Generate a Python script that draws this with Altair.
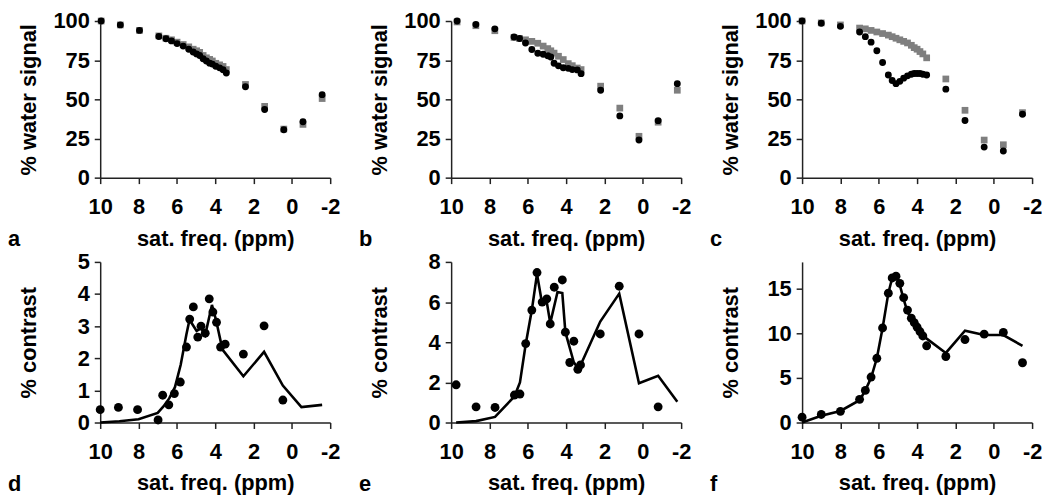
import altair as alt
import pandas as pd

FONT = "Liberation Sans"
FS = 22

# ---------------- panel a ----------------
a_x = [9.95, 8.95, 7.95, 6.94, 6.57, 6.28, 5.99, 5.67, 5.38, 5.15, 4.97, 4.81, 4.63, 4.46,
       4.29, 4.15, 3.97, 3.77, 3.59, 3.42, 2.42, 1.42, 0.42, -0.58, -1.58]
a_black = [100, 97.5, 94, 90.1, 88.7, 87.3, 85.6, 84.0, 82.0, 80.2, 79.0, 78.0, 75.9, 74.5,
           73.1, 72.5, 71.1, 70.1, 68.9, 66.8, 58, 43.5, 30.6, 35.7, 53]
a_gray = [100, 97.5, 94, 90.5, 89, 88, 86.5, 85, 83.5, 82, 81, 80, 78, 76.5,
          75.5, 74.5, 73, 72, 71, 69, 59.5, 45.5, 31, 34, 50.5]

# ---------------- panel b ----------------
b_x = [9.69, 8.71, 7.72, 6.72, 6.43, 6.12, 5.79, 5.48, 5.2, 4.96, 4.8, 4.63, 4.4, 4.15,
       3.89, 3.68, 3.42, 3.22, 2.2, 1.2, 0.2, -0.8, -1.8]
b_black = [100, 97.8, 95, 89.8, 88.8, 86, 81.8, 79.4, 78.8, 77.8, 77, 73, 71.4, 70.2,
           69.8, 69, 68.8, 66.4, 55.8, 39.4, 24, 36.4, 60]
b_gray = [99.4, 97, 93.8, 89.5, 88.8, 88, 87, 85.8, 84, 82.4, 81, 79.5, 77.5, 75.4,
          72.8, 71.5, 70, 69, 58.4, 44.4, 26.4, 35.4, 55.8]

# ---------------- panel c ----------------
c_x = [10, 9, 8, 7, 6.7, 6.4, 6.1, 5.8, 5.5, 5.3, 5.1, 4.9, 4.7, 4.5, 4.3, 4.15, 4.0,
       3.85, 3.7, 3.5, 2.5, 1.5, 0.5, -0.5, -1.5]
c_black = [100, 98.6, 96.6, 93, 90, 86.5, 81, 73.5, 65.5, 62, 60, 61.5, 63.5, 65, 66, 66.5,
           66.5, 66.5, 66, 65.5, 56.5, 36.5, 19.5, 17, 40.5]
c_gray = [100, 98.8, 97.5, 95.5, 95, 94, 93, 92, 91, 90, 89, 88, 87, 86, 84.5, 83, 82,
          80.5, 79, 76.5, 63, 43, 24, 21, 41.5]

# ---------------- panel d ----------------
d_x = [10, 9.05, 8.05, 6.98, 6.74, 6.42, 6.13, 5.82, 5.5, 5.33, 5.14, 4.91, 4.74, 4.52,
       4.31, 4.12, 3.93, 3.72, 3.48, 2.53, 1.45, 0.47]
d_pts = [0.4, 0.47, 0.4, 0.08, 0.85, 0.55, 0.9, 1.26, 2.35, 3.22, 3.6, 2.66, 3.0, 2.78,
         3.85, 3.44, 3.12, 2.35, 2.44, 2.13, 3.01, 0.7]
d_line_x = [10, 9, 8, 7, 6.7, 6.4, 6.1, 5.8, 5.5, 5.34, 4.97, 4.74, 4.52, 4.17, 3.96,
            3.62, 2.53, 1.45, 0.47, -0.5, -1.58]
d_line = [0, 0.04, 0.1, 0.3, 0.5, 0.75, 1.1, 1.8, 2.75, 3.2, 2.85, 2.94, 2.73, 3.66, 3.2,
          2.27, 1.44, 2.2, 1.15, 0.48, 0.55]

# ---------------- panel e ----------------
e_x = [9.74, 8.7, 7.71, 6.7, 6.41, 6.11, 5.79, 5.52, 5.25, 5.01, 4.83, 4.62, 4.2, 4.04,
       3.81, 3.6, 3.39, 3.25, 2.22, 1.23, 0.2, -0.8]
e_pts = [1.88, 0.78, 0.75, 1.37, 1.42, 3.93, 5.6, 7.47, 6.0, 6.16, 4.91, 6.74, 7.1, 4.5,
         2.99, 4.05, 2.65, 2.87, 4.41, 6.79, 4.41, 0.78]
e_line_x = [9.74, 8.7, 7.71, 6.7, 6.41, 6.11, 5.79, 5.52, 5.25, 5.01, 4.83, 4.45, 4.2,
            4.04, 3.6, 3.35, 3.25, 2.22, 1.23, 0.2, -0.8, -1.8]
e_line = [0.0, 0.07, 0.28, 1.3, 2.0, 3.9, 5.6, 7.4, 5.9, 6.0, 4.95, 6.5, 6.45, 4.5, 3.0,
          2.65, 2.85, 5.03, 6.42, 1.96, 2.33, 1.03]

# ---------------- panel f ----------------
f_x = c_x
f_pts = [0.6, 0.9, 1.25, 2.6, 3.6, 5.1, 7.2, 10.6, 14.5, 16.2, 16.4, 15.6, 14.0, 12.6,
         11.7, 11.2, 10.7, 10.2, 9.7, 8.6, 7.4, 9.3, 9.9, 10.1, 6.7]
f_line = [0.0, 0.75, 1.3, 2.5, 3.6, 5.0, 7.2, 10.6, 14.5, 16.2, 16.5, 15.4, 13.8, 12.4,
          11.6, 11.1, 10.6, 10.1, 9.7, 9.4, 7.8, 10.3, 9.8, 9.8, 8.6]

x_ticks = [10, 8, 6, 4, 2, 0, -2]

W = 232
H_TOP = 158
H_BOT = 162


def enc(ytitle, ydom, yticks):
    xs = alt.Scale(domain=[-2, 10], reverse=True, nice=False, zero=False)
    ys = alt.Scale(domain=ydom, nice=False, zero=True)
    xa = alt.Axis(values=x_ticks, title="sat. freq. (ppm)", grid=False,
                  titleY=61, titleBaseline="middle", labelExpr="'' + datum.value")
    ya = alt.Axis(values=yticks, title=ytitle, grid=False, titleX=-72,
                  titleBaseline="middle")
    return (alt.X("x:Q", scale=xs, axis=xa), alt.Y("y:Q", scale=ys, axis=ya))


def letter_layer(letter, h):
    return alt.Chart(pd.DataFrame({"t": [letter]})).mark_text(
        align="left", baseline="middle", font=FONT, fontSize=FS, fontWeight="bold",
        color="black").encode(x=alt.value(-93), y=alt.value(h + 62), text="t:N")


def top_panel(letter, xs, gray, black):
    X, Y = enc("% water signal", [0, 100], [0, 25, 50, 75, 100])
    g = alt.Chart(pd.DataFrame({"x": xs, "y": gray})).mark_square(
        size=46, color="#7f7f7f", opacity=1).encode(x=X, y=Y)
    b = alt.Chart(pd.DataFrame({"x": xs, "y": black})).mark_circle(
        size=48, color="black", opacity=1).encode(x=X, y=Y)
    return alt.layer(g, b, letter_layer(letter, H_TOP)).properties(width=W, height=H_TOP)


def bottom_panel(letter, xs, pts, lx, ly, ydom, yticks):
    X, Y = enc("% contrast", ydom, yticks)
    ln = alt.Chart(pd.DataFrame({"x": lx, "y": ly})).mark_line(
        color="black", strokeWidth=2.6).encode(x=X, y=Y)
    p = alt.Chart(pd.DataFrame({"x": xs, "y": pts})).mark_circle(
        size=80, color="black", opacity=1).encode(x=X, y=Y)
    return alt.layer(ln, p, letter_layer(letter, H_BOT)).properties(width=W, height=H_BOT)


panels = [
    top_panel("a", a_x, a_gray, a_black),
    top_panel("b", b_x, b_gray, b_black),
    top_panel("c", c_x, c_gray, c_black),
    bottom_panel("d", d_x, d_pts, d_line_x, d_line, [0, 5], [0, 1, 2, 3, 4, 5]),
    bottom_panel("e", e_x, e_pts, e_line_x, e_line, [0, 8], [0, 2, 4, 6, 8]),
    bottom_panel("f", f_x, f_pts, f_x, f_line, [0, 18], [0, 5, 10, 15]),
]

chart = alt.concat(*panels, columns=3, bounds="flush",
                   spacing={"row": 85, "column": 122}).properties(
    padding={"left": 0, "top": 0, "right": 0, "bottom": 0}
).configure_view(stroke=None).configure_axis(
    labelFont=FONT, labelFontSize=FS, labelFontWeight="bold", labelColor="black",
    titleFont=FONT, titleFontSize=FS, titleFontWeight="bold", titleColor="black",
    domainColor="#222222", domainWidth=1.5, tickColor="#222222", tickWidth=1.5,
    tickSize=6, labelOverlap=False, labelFlush=False
).configure_axisX(labelPadding=13).configure_axisY(labelPadding=5)

chart.save("out.html", embed_options={"renderer": "svg", "actions": False})
